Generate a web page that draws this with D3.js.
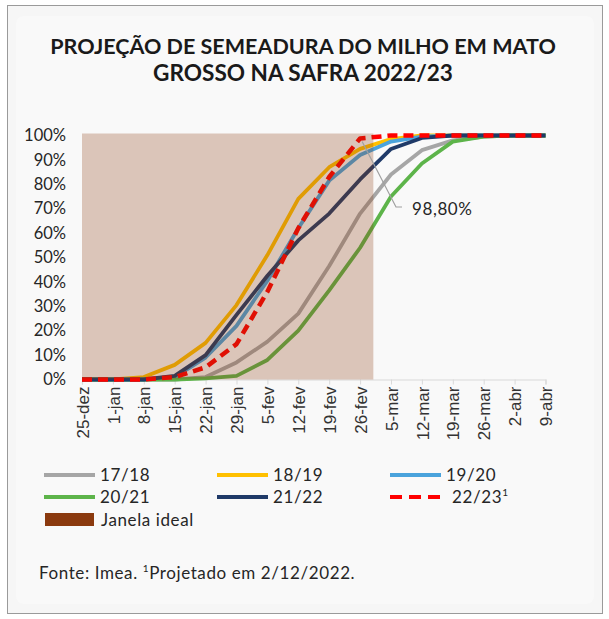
<!DOCTYPE html>
<html><head><meta charset="utf-8">
<script src="https://cdn.jsdelivr.net/npm/d3@7"></script>
<style>
body{margin:0;background:#fff;}
svg{display:block;}
.lato{font-family:Lato,"Open Sans",sans-serif;}
.wide{letter-spacing:0.6px;}
</style></head>
<body><svg id="c" width="609" height="619"></svg>
<script>
const dates = ["2022-12-25","2023-01-01","2023-01-08","2023-01-15","2023-01-22","2023-01-29","2023-02-05","2023-02-12","2023-02-19","2023-02-26","2023-03-05","2023-03-12","2023-03-19","2023-03-26","2023-04-02","2023-04-09"];
const xLabels = ["25-dez","1-jan","8-jan","15-jan","22-jan","29-jan","5-fev","12-fev","19-fev","26-fev","5-mar","12-mar","19-mar","26-mar","2-abr","9-abr"];
const yTicks = [0,10,20,30,40,50,60,70,80,90,100];
const s1718 = [0,0,0,0,1,7,15.5,27,46.5,68,84,94,98,99.5,100,100];
const s1819 = [0,0,1,6,15,30.5,51,74,87,94.5,98.5,100,100,100,100,100];
const s1920 = [0,0,0,1,9,22,40.5,62,81.5,92,97.5,99.5,100,100,100,100];
const s2021 = [0,0,0,0,0.5,1.5,8,20,36.5,54,75,88.5,97.5,99.5,100,100];
const s2122 = [0,0,0,1.5,10,26.5,42.5,57,68,82,94.5,99,100,100,100,100];
const s2223 = [0,0,0,1,5,14.5,36,62,83,98.8,100,100,100,100,100,100];
const janela = ["2022-12-25","2023-03-01"];
const janelaValue = 100;
const annotation = {date:"2023-02-26", value:98.8, text:"98,80%"};

const series = [
  {name:"17/18", values:s1718, color:"#a6a6a6", dash:null},
  {name:"18/19", values:s1819, color:"#ffc000", dash:null},
  {name:"19/20", values:s1920, color:"#4aa3dc", dash:null},
  {name:"20/21", values:s2021, color:"#5db44a", dash:null},
  {name:"21/22", values:s2122, color:"#1f3a68", dash:null},
  {name:"22/23", values:s2223, color:"#ff0000", dash:"10,6"}
];

const parse = d3.utcParse("%Y-%m-%d");
const svg = d3.select("#c");

// frame
svg.append("rect").attr("x",7.5).attr("y",5.5).attr("width",595).attr("height",608)
  .attr("fill","#f6f6f6").attr("stroke","#9a9a9a").attr("stroke-width",1);
svg.append("rect").attr("x",16).attr("y",16).attr("width",578).attr("height",588).attr("rx",8)
  .attr("fill","#f9f9f9");

// title
const tl = [["PROJEÇÃO DE SEMEADURA DO MILHO EM MATO",54,506],["GROSSO NA SAFRA 2022/23",81,300]];
tl.forEach(([t,yy,w])=>{
  const el = svg.append("text").attr("class","lato").attr("x",303).attr("y",yy)
    .attr("text-anchor","middle").attr("font-size",21).attr("font-weight",700)
    .attr("fill","#1a1a1a").text(t);
  const L = el.node().getComputedTextLength();
  el.attr("font-size", 21*w/L);
});

const x = d3.scaleUtc().domain([parse(dates[0]), parse(dates[dates.length-1])]).range([82,545.5]);
const y = d3.scaleLinear().domain([0,100]).range([379.5,135.5]);

// y labels
const ya = svg.append("g").attr("transform","translate(66,0)")
  .call(d3.axisLeft(y).tickValues(yTicks).tickSize(0).tickPadding(0).tickFormat(d=>d+"%"));
ya.select(".domain").remove();
ya.selectAll("text").attr("class","lato").attr("font-size",16.5).attr("fill","#262626")
  .attr("font-family",null);

// x axis
const xa = svg.append("g").attr("transform",`translate(0,${y(0)})`)
  .call(d3.axisBottom(x).tickValues(dates.map(parse)).tickSize(5).tickFormat((d,i)=>xLabels[i]));
xa.select(".domain").attr("stroke","#d9d9d9").attr("stroke-width",1.2);
xa.selectAll(".tick line").attr("stroke","#d9d9d9");
xa.selectAll("text").attr("font-family","Liberation Sans, Arial, sans-serif").attr("font-size",17)
  .attr("fill","#333").attr("text-anchor","end").attr("y",0)
  .attr("transform","translate(0,7) rotate(-90)").attr("dy","0.36em").attr("x",0);

// lines
const line = d3.line().x((d,i)=>x(parse(dates[i]))).y(d=>y(d));
series.forEach(s=>{
  svg.append("path").datum(s.values).attr("d",line).attr("fill","none")
    .attr("stroke",s.color).attr("stroke-width",s.dash?4.5:3.8)
    .attr("stroke-dasharray",s.dash).attr("stroke-linejoin","round");
});

// janela ideal overlay (drawn on top, translucent)
svg.append("rect").attr("x",x(parse(janela[0]))).attr("y",y(janelaValue)-2)
  .attr("width",x(parse(janela[1]))-x(parse(janela[0]))).attr("height",y(0)-y(janelaValue)+2)
  .attr("fill","#8b3a0f").attr("fill-opacity",0.27);

// annotation
const ax = x(parse(annotation.date)), ay = y(annotation.value);
svg.append("path").attr("d",`M${ax+2},${ay+3}L396,207L402,207`).attr("fill","none")
  .attr("stroke","#a0a0a0").attr("stroke-width",1.2);
svg.append("text").attr("class","lato wide").attr("x",412).attr("y",215).attr("font-size",17)
  .attr("fill","#262626").text(annotation.text);

// legend
const cols=[44,217,390], rows=[475,497];
series.forEach((s,i)=>{
  const lx=cols[i%3], ly=rows[Math.floor(i/3)];
  svg.append("line").attr("x1",lx).attr("x2",lx+(s.dash?50:51)).attr("y1",ly).attr("y2",ly)
    .attr("stroke",s.color).attr("stroke-width",4).attr("stroke-dasharray",s.dash?"12,7":null);
  const t = svg.append("text").attr("class","lato wide").attr("x",lx+(s.dash?62:56)).attr("y",ly+6)
    .attr("font-size",17).attr("fill","#262626").text(s.name);
  if(s.dash) t.append("tspan").attr("font-size",10).attr("dy",-7).text("1");
});
svg.append("rect").attr("x",45).attr("y",513).attr("width",49).attr("height",13).attr("fill","#8b3a0f");
svg.append("text").attr("class","lato wide").attr("x",101).attr("y",526).attr("font-size",17)
  .attr("fill","#262626").text("Janela ideal");

// footnote
const fn = svg.append("text").attr("class","lato wide").attr("x",39).attr("y",579).attr("font-size",17)
  .attr("fill","#262626");
fn.append("tspan").text("Fonte: Imea. ");
fn.append("tspan").attr("font-size",10).attr("dy",-7).text("1");
fn.append("tspan").attr("dy",7).text("Projetado em 2/12/2022.");
</script></body></html>
